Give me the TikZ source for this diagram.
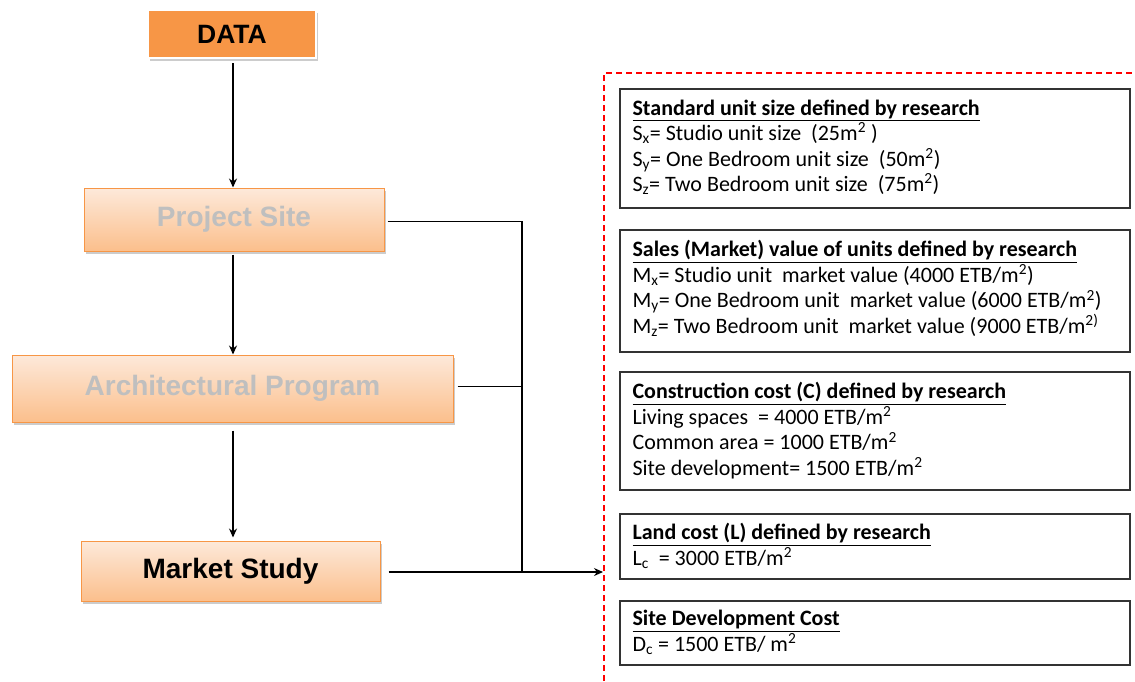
\documentclass[tikz,border=0pt]{standalone}
\usepackage{fontspec}
\setmainfont{Carlito}
\newfontfamily\arialbold[BoldFont={Liberation Sans Bold}]{Liberation Sans}
\usetikzlibrary{shadows,arrows.meta}
\definecolor{accent}{HTML}{F79646}
\definecolor{peachtop}{HTML}{FDE9DA}
\definecolor{peachbot}{HTML}{FBBF8C}
\definecolor{greytext}{HTML}{BFBFBF}
\tikzset{
  x=1pt, y=-1pt,
  shade/.style={drop shadow={opacity=0.4, shadow xshift=1.5pt, shadow yshift=-3pt}},
  stagebox/.style={rectangle, draw=accent, line width=1pt, top color=peachtop,
    bottom color=peachbot, shade, inner sep=0pt,
    font=\arialbold\fontsize{28}{30}\selectfont\bfseries},
  databox/.style={rectangle, draw=white, line width=2pt, fill=accent, shade,
    inner sep=0pt, font=\arialbold\fontsize{26.5}{28}\selectfont\bfseries},
  flow/.style={line width=1.3pt, -{Stealth[length=9pt,width=8pt]}},
  link/.style={line width=1.4pt},
  infobox/.style={rectangle, draw=black!80, line width=1.3pt, minimum width=510pt, inner sep=0pt},
  infotext/.style={anchor=north west, align=left, inner sep=0pt,
    font=\fontsize{22}{25.5}\selectfont},
}
\newcommand{\hd}[1]{\underline{\textbf{#1}}}
\begin{document}
\begin{tikzpicture}
\useasboundingbox (0,0) rectangle (1135,681);

% process column
\node[databox, minimum width=168pt, minimum height=48pt] (data) at (232,34) {DATA};
\node[stagebox, minimum width=300pt, minimum height=63pt, text=greytext] (site) at (234,219.5) {Project Site};
\node[stagebox, minimum width=441pt, minimum height=67pt, text=greytext] (prog) at (232.5,388.5) {Architectural Program};
\node[stagebox, minimum width=299pt, minimum height=60pt] (market) at (230.5,571) {Market Study};

% vertical flow along one axis
\coordinate (axis) at (233,0);
\draw[flow] ([yshift=-4pt]data.south -| axis) -- (site.north -| axis);
\draw[flow] ([yshift=-3pt]site.south -| axis) -- (prog.north -| axis);
\draw[flow] ([yshift=-8pt]prog.south -| axis) -- ([yshift=3pt]market.north -| axis);

% collector bus
\coordinate (bus) at (522,0);
\coordinate (frame) at (604,73);
\draw[link] ([xshift=3pt,yshift=-2pt]site.east) -- ([yshift=-2pt]site.east -| bus) -- ([yshift=-1pt]market.east -| bus);
\draw[link] ([xshift=4pt,yshift=2pt]prog.east) -- ([yshift=2pt]prog.east -| bus);
\draw[flow] ([xshift=8pt,yshift=-1pt]market.east) -- ([xshift=-1pt,yshift=-1pt]market.east -| frame);

% research frame
\draw[red, line width=1.1pt, dash pattern=on 6pt off 4pt] (604,681) -- (frame) -- (1135,73);

% research boxes
\node[infobox, minimum height=119pt] (b1) at (875,148.5) {};
\node[infotext] (t1) at ([shift={(13,11)}]b1.north west) {%
\hd{Standard unit size defined by research}\\
S\textsubscript{x}= Studio unit size\ \ (25m\textsuperscript{2} )\\
S\textsubscript{y}= One Bedroom unit size\ \ (50m\textsuperscript{2})\\
S\textsubscript{z}= Two Bedroom unit size\ \ (75m\textsuperscript{2})};

\node[infobox, minimum height=122pt] (b2) at (875,291) {};
\node[infotext] (t2) at ([shift={(13,11)}]b2.north west) {%
\hd{Sales (Market) value of units defined by research}\\
M\textsubscript{x}= Studio unit\ \ market value (4000 ETB/m\textsuperscript{2})\\
M\textsubscript{y}= One Bedroom unit\ \ market value (6000 ETB/m\textsuperscript{2})\\
M\textsubscript{z}= Two Bedroom unit\ \ market value (9000 ETB/m\textsuperscript{2)}};

\node[infobox, minimum height=118pt] (b3) at (875,431) {};
\node[infotext] (t3) at ([shift={(13,11)}]b3.north west) {%
\hd{Construction cost (C) defined by research}\\
Living spaces\ \ = 4000 ETB/m\textsuperscript{2}\\
Common area = 1000 ETB/m\textsuperscript{2}\\
Site development= 1500 ETB/m\textsuperscript{2}};

\node[infobox, minimum height=65pt] (b4) at (875,546.5) {};
\node[infotext] (t4) at ([shift={(13,10)}]b4.north west) {%
\hd{Land cost (L) defined by research}\\
L\textsubscript{c}\ \ = 3000 ETB/m\textsuperscript{2}};

\node[infobox, minimum height=64pt] (b5) at (875,633) {};
\node[infotext] (t5) at ([shift={(13,10)}]b5.north west) {%
\hd{Site Development Cost}\\
D\textsubscript{c}\ = 1500 ETB/ m\textsuperscript{2}};
\end{tikzpicture}
\end{document}
